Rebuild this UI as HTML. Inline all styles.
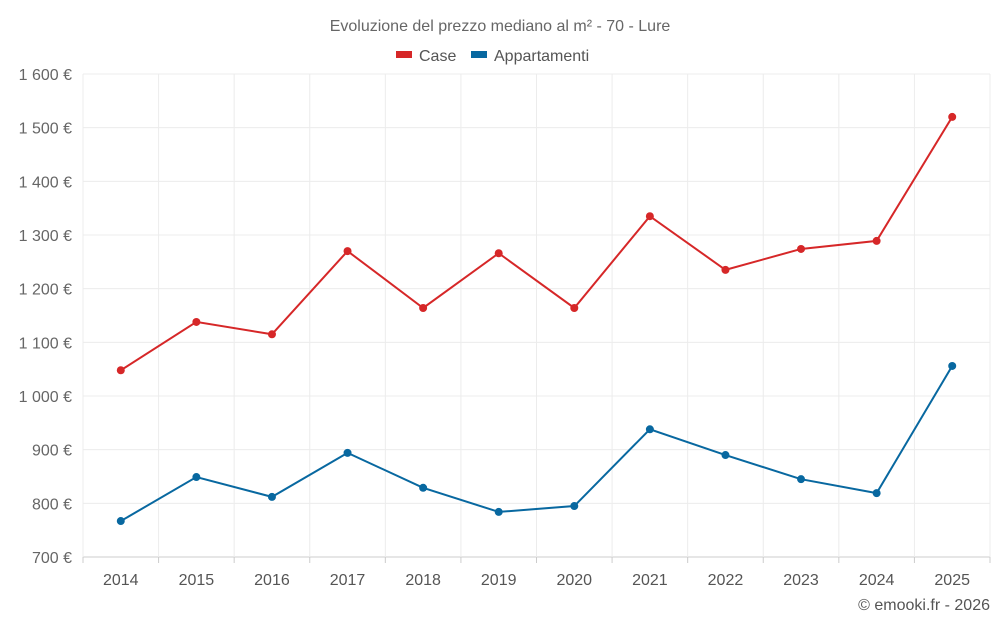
<!DOCTYPE html>
<html><head><meta charset="utf-8"><style>
html,body{margin:0;padding:0;background:#fff;}
svg{display:block;font-family:"Liberation Sans",sans-serif;}
</style></head><body>
<svg id="chart" width="1000" height="625" viewBox="0 0 1000 625">
<text x="500" y="31" text-anchor="middle" font-size="16" fill="#666">Evoluzione del prezzo mediano al m² - 70 - Lure</text>
<g>
<g><rect x="396" y="51" width="16" height="7" fill="#d62728"/><text x="419" y="61" font-size="16" fill="#555">Case</text></g>
<g><rect x="471" y="51" width="16" height="7" fill="#0868a0"/><text x="494" y="61" font-size="16" fill="#555">Appartamenti</text></g>
</g>
<g id="grid"></g>
<g id="axes"></g>
<g id="series"></g>
<text x="990" y="610" text-anchor="end" font-size="16" fill="#555">© emooki.fr - 2026</text>
</svg>
<script>
const years = ["2014","2015","2016","2017","2018","2019","2020","2021","2022","2023","2024","2025"];
const caseValues = [1048,1138,1115,1270,1164,1266,1164,1335,1235,1274,1289,1520];
const apptValues = [767,849,812,894,829,784,795,938,890,845,819,1056];
const yTicks = [700,800,900,1000,1100,1200,1300,1400,1500,1600];
const yTickLabels = ["700 €","800 €","900 €","1 000 €","1 100 €","1 200 €","1 300 €","1 400 €","1 500 €","1 600 €"];

const NS = "http://www.w3.org/2000/svg";
const L = 83, R = 990, T = 74, B = 557;
const yMin = 700, yMax = 1600;
const step = (R - L) / years.length;
const x = i => L + step * (i + 0.5);
const y = v => B - (v - yMin) / (yMax - yMin) * (B - T);
function mk(tag, attrs, parent) {
  const e = document.createElementNS(NS, tag);
  for (const k in attrs) e.setAttribute(k, attrs[k]);
  parent.appendChild(e);
  return e;
}
const grid = document.getElementById("grid");
const axes = document.getElementById("axes");
const series = document.getElementById("series");

yTicks.forEach((t, i) => {
  const ln = mk("line", {x1: L, x2: R, y1: y(t), y2: y(t), stroke: i === 0 ? "#ccc" : "#ececec", "stroke-width": 1}, grid);
  
  
  const tx = mk("text", {x: 72, y: y(t) + 6, "text-anchor": "end", "font-size": 16, fill: "#666"}, axes);
  tx.textContent = yTickLabels[i];
  
  
});
for (let i = 0; i <= years.length; i++) {
  const gx = L + step * i;
  const ln = mk("line", {x1: gx, x2: gx, y1: T, y2: B, stroke: "#ececec", "stroke-width": 1}, grid);
  
  
  const tk = mk("line", {x1: gx, x2: gx, y1: B, y2: B + 6, stroke: "#ccc"}, axes);
  
  
}
years.forEach((yr, i) => {
  const tx = mk("text", {x: x(i), y: 585, "text-anchor": "middle", "font-size": 16, fill: "#555"}, axes);
  tx.textContent = yr;
  
  
});
function drawSeries(vals, color, name) {
  const g = mk("g", {}, series);
  
  
  const pl = mk("polyline", {points: vals.map((v, i) => x(i) + "," + y(v)).join(" "), fill: "none", stroke: color, "stroke-width": 2}, g);
  
  
  vals.forEach((v, i) => {
    const c = mk("circle", {cx: x(i), cy: y(v), r: 4, fill: color}, g);
    
    
  });
}
drawSeries(caseValues, "#d62728", "case");
drawSeries(apptValues, "#0868a0", "appartamenti");
</script>
</body></html>
